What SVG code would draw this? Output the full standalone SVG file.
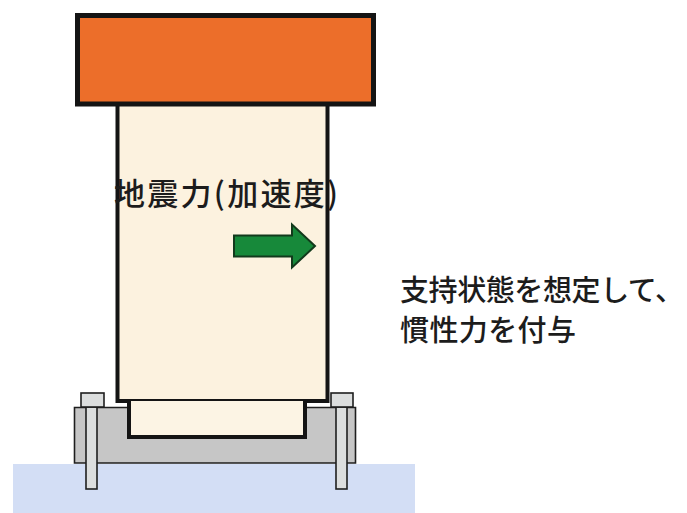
<svg xmlns="http://www.w3.org/2000/svg" width="687" height="513" viewBox="0 0 687 513">
  <style>
    .ln { stroke: #141414; stroke-linejoin: miter; }
    .steel { fill: #c6c6c6; stroke: #1e1e1e; stroke-width: 1.6; }
    .bolt { fill: #dcdede; stroke: #1e1e1e; stroke-width: 1.6; }
    .lbl { font-family: "Noto Sans CJK JP", "Noto Sans", sans-serif; fill: #1c1c1c; font-weight: 500; }
  </style>
  <rect width="687" height="513" fill="#ffffff"/>

  <!-- ground -->
  <g id="ground">
    <rect x="13" y="464" width="402" height="49" fill="#d3def5"/>
  </g>

  <!-- base plate (U-shaped trough) -->
  <g id="base">
    <path class="steel" d="M74.5 407.5 H129 V437 H305 V407.5 H355.5 V463 H74.5 Z"/>
  </g>

  <!-- anchor bolts -->
  <g id="bolt-left">
    <rect class="bolt" x="86" y="407" width="11" height="82"/>
    <rect class="bolt" x="81" y="393" width="23" height="14"/>
  </g>
  <g id="bolt-right">
    <rect class="bolt" x="336" y="407" width="11" height="82"/>
    <rect class="bolt" x="331" y="393" width="22" height="14"/>
  </g>

  <!-- column body and foot block -->
  <g id="column">
    <rect class="ln" x="117.5" y="104" width="210" height="297" fill="#fcf2df" stroke-width="4"/>
    <path class="ln" d="M129 401 V437 H305 V401" fill="#fcf4e4" stroke-width="4"/>
  </g>

  <!-- top mass -->
  <g id="cap">
    <rect class="ln" x="77.5" y="15.5" width="296" height="88.5" fill="#ec6e2a" stroke-width="5"/>
  </g>

  <!-- seismic load arrow -->
  <g id="load-arrow">
    <path d="M234 235.5 H292 V224.5 L315 246 L292 267.5 V256.5 H234 Z" fill="#17893a" stroke="#123a1c" stroke-width="2" stroke-linejoin="miter"/>
  </g>

  <g id="label-load">
    <text class="lbl" x="114" y="205" font-size="31" textLength="224" lengthAdjust="spacing">地震力(加速度)</text>
  </g>

  <g id="label-note">
    <text class="lbl" x="400" y="301" font-size="29" textLength="284" lengthAdjust="spacing">支持状態を想定して、</text>
    <text class="lbl" x="400" y="341" font-size="29" textLength="176" lengthAdjust="spacing">慣性力を付与</text>
  </g>
</svg>
